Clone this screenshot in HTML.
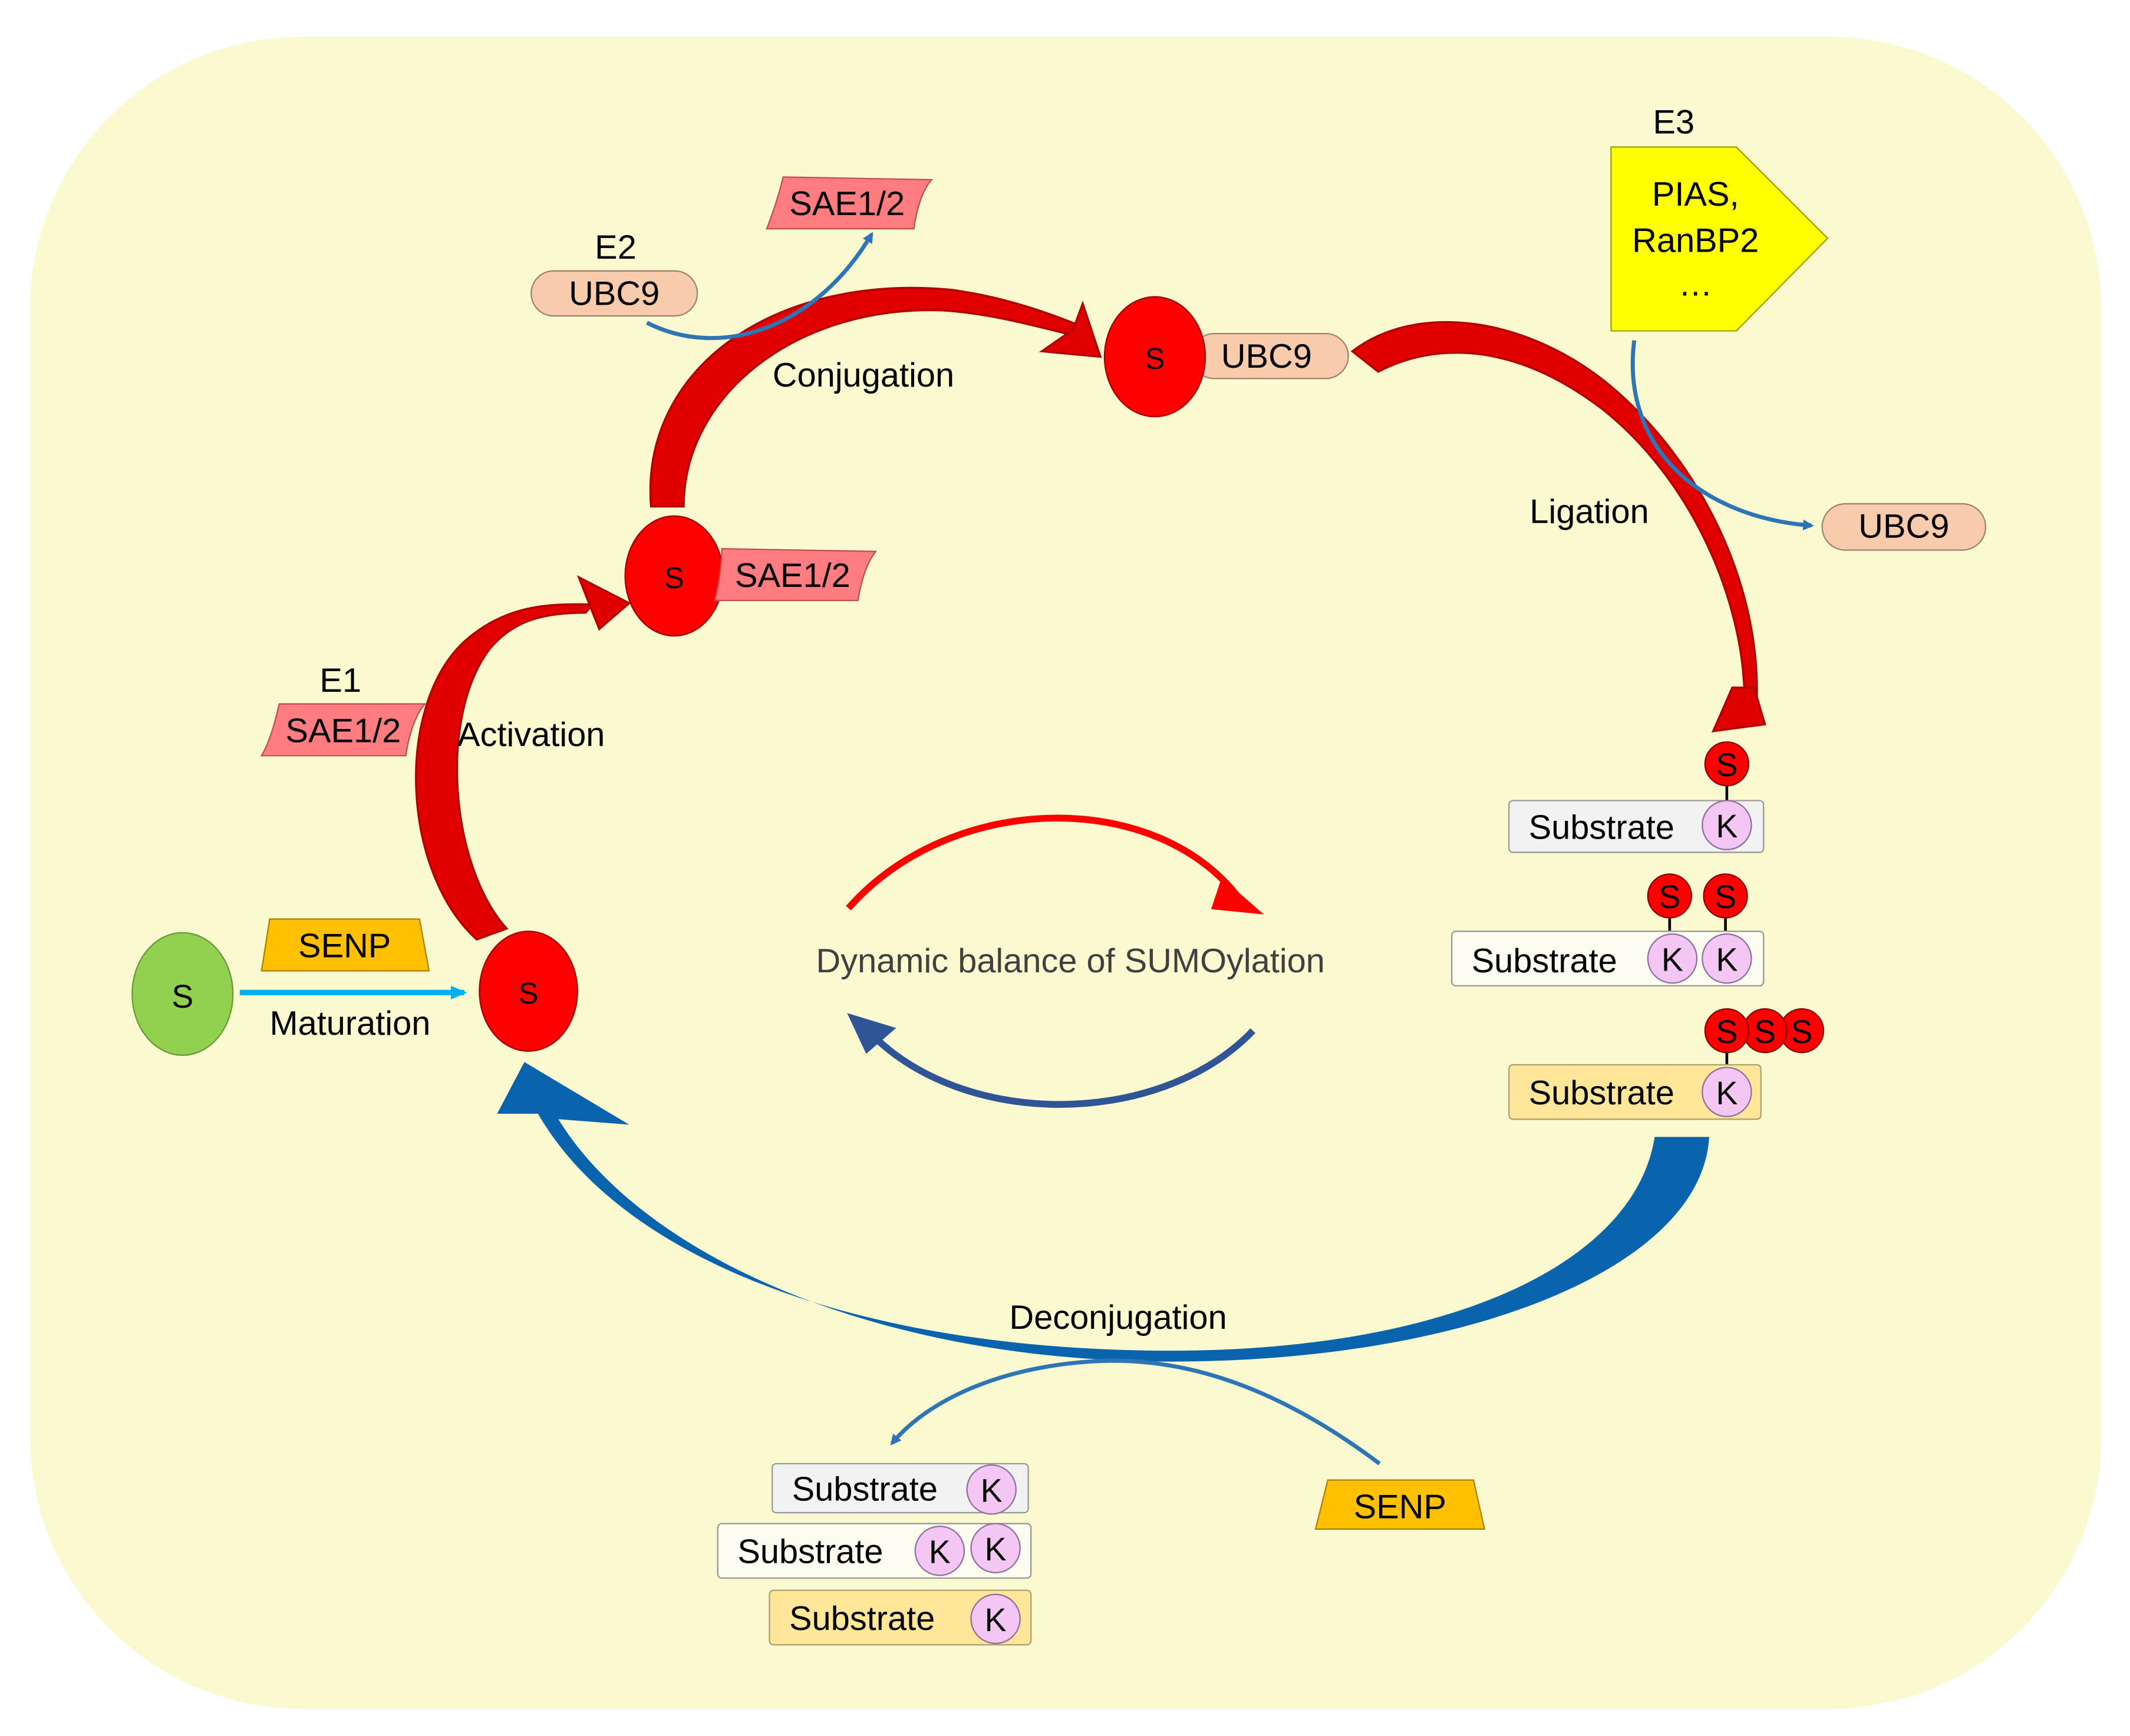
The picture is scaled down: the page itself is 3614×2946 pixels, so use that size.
<!DOCTYPE html>
<html><head><meta charset="utf-8"><style>
html,body{margin:0;padding:0;background:#fff;}
svg{display:block;}
text{font-family:"Liberation Sans",Arial,sans-serif;}
</style></head><body>
<svg width="3614" height="2946" viewBox="0 0 1564 1275" xmlns="http://www.w3.org/2000/svg">
<defs>
<marker id="bh" markerWidth="8" markerHeight="8" refX="6" refY="4" orient="auto" markerUnits="userSpaceOnUse"><path d="M0,0 L8,4 L0,8 z" fill="#2e75b6"/></marker>
<marker id="ch" markerWidth="12" markerHeight="10" refX="10" refY="5" orient="auto" markerUnits="userSpaceOnUse"><path d="M0,0 L12,5 L0,10 z" fill="#00b0f0"/></marker>
</defs>
<rect x="22" y="27" width="1521" height="1228" rx="200" fill="#fbf9d0"/>

<!-- Activation arrow (tapered) -->
<path d="M350,690 C295,640 290,520 340,472 C370,445 400,443 435,444 L430,450 C400,450 378,455 360,476 C322,525 330,635 372,682 Z" fill="#e00000" stroke="#b00000" stroke-width="1.5"/>
<path d="M425,424 L462,443 L440,462 L434,447 Z" fill="#e00000" stroke="#b00000" stroke-width="1.5"/>
<!-- Conjugation arrow (tapered) -->
<path d="M478,372 C470,270 570,200 700,213 C735,218 765,228 790,238 L787,246 C755,238 725,230 692,228 C585,224 502,290 502,372 Z" fill="#e00000" stroke="#b00000" stroke-width="1.5"/>
<path d="M795,223 L808,262 L765,258 L788,242 Z" fill="#e00000" stroke="#b00000" stroke-width="1.5"/>
<!-- Ligation arrow (tapered) -->
<path d="M993,258 C1040,222 1120,232 1182,283 C1250,340 1292,430 1290,512 L1281,512 C1280,440 1242,352 1176,300 C1110,250 1052,252 1012,273 Z" fill="#e00000" stroke="#b00000" stroke-width="1.5"/>
<path d="M1258,537 L1296,532 L1288,505 L1272,505 Z" fill="#e00000" stroke="#b00000" stroke-width="1.5"/>

<!-- Deconjugation big blue arrow -->
<path d="M1255,835 C1250,930 1080,1000 860,1000 C640,1000 470,920 410,822 L462,826 L385,780 L365,818 L395,818 C460,930 640,992 860,992 C1060,992 1200,930 1215,835 Z" fill="#0a63ad"/>

<!-- Center arcs -->
<path d="M623,667 C700,580 850,580 910,660" fill="none" stroke="#ff0000" stroke-width="5"/>
<path d="M898,648 L922,669 L892,666 Z" fill="#ff0000" stroke="#ff0000" stroke-width="4"/>
<path d="M920,757 C850,830 700,830 633,752" fill="none" stroke="#2f5597" stroke-width="5"/>
<path d="M622,744 L658,755 L636,774 Z" fill="#2f5597"/>
<text x="786" y="714" font-size="25" fill="#404040" text-anchor="middle">Dynamic balance of SUMOylation</text>

<!-- thin blue arrows -->
<path d="M475,237 C530,265 600,240 640,172" fill="none" stroke="#2e75b6" stroke-width="3" marker-end="url(#bh)"/>
<path d="M1200,250 C1190,330 1250,380 1330,386" fill="none" stroke="#2e75b6" stroke-width="3" marker-end="url(#bh)"/>
<path d="M1013,1075 C940,1020 870,995 800,1000 C730,1005 680,1030 655,1060" fill="none" stroke="#2e75b6" stroke-width="3" marker-end="url(#bh)"/>

<!-- Maturation -->
<ellipse cx="134" cy="730" rx="37" ry="45" fill="#92d050" stroke="#6a9a3a"/>
<text x="134" y="740" font-size="24" text-anchor="middle">S</text>
<path d="M198,675 L308,675 L315,713 L192,713 Z" fill="#ffc000" stroke="#b08000"/>
<text x="253" y="703" font-size="25" text-anchor="middle">SENP</text>
<line x1="176" y1="729" x2="341" y2="729" stroke="#00b0f0" stroke-width="4" marker-end="url(#ch)"/>
<text x="257" y="760" font-size="25" text-anchor="middle">Maturation</text>
<ellipse cx="388" cy="728" rx="36" ry="44" fill="#ff0000" stroke="#a00000"/>
<text x="388" y="737" font-size="22" text-anchor="middle">S</text>

<!-- E1 -->
<text x="250" y="508" font-size="25" text-anchor="middle">E1</text>
<path d="M205,517 L312,517 C305,525 300,540 298,555 L192,555 C198,545 202,530 205,517 Z" fill="#ff7c80" stroke="#c05050"/>
<text x="252" y="545" font-size="25" text-anchor="middle">SAE1/2</text>
<text x="390" y="548" font-size="25" text-anchor="middle">Activation</text>

<ellipse cx="495" cy="423" rx="36" ry="44" fill="#ff0000" stroke="#a00000"/>
<text x="495" y="432" font-size="22" text-anchor="middle">S</text>
<path d="M530,403 L643,405 C636,414 632,428 630,441 L525,441 C528,428 530,415 530,403 Z" fill="#ff7c80" stroke="#c05050"/>
<text x="582" y="431" font-size="25" text-anchor="middle">SAE1/2</text>

<text x="634" y="284" font-size="25" text-anchor="middle">Conjugation</text>

<!-- E2 -->
<text x="452" y="190" font-size="25" text-anchor="middle">E2</text>
<rect x="390" y="199" width="122" height="33" rx="16.5" fill="#f8cbad" stroke="#a08070"/>
<text x="451" y="224" font-size="25" text-anchor="middle">UBC9</text>
<path d="M575,130 L684,132 C677,140 673,154 671,168 L563,168 C568,155 572,143 575,130 Z" fill="#ff7c80" stroke="#c05050"/>
<text x="622" y="158" font-size="25" text-anchor="middle">SAE1/2</text>

<rect x="875" y="245" width="115" height="33" rx="16.5" fill="#f8cbad" stroke="#a08070"/>
<text x="930" y="270" font-size="25" text-anchor="middle">UBC9</text>
<ellipse cx="848" cy="262" rx="37" ry="44" fill="#ff0000" stroke="#a00000"/>
<text x="848" y="271" font-size="22" text-anchor="middle">S</text>

<text x="1167" y="384" font-size="25" text-anchor="middle">Ligation</text>

<!-- E3 -->
<text x="1229" y="98" font-size="25" text-anchor="middle">E3</text>
<path d="M1183,108 L1275,108 L1342,175 L1275,243 L1183,243 Z" fill="#ffff00" stroke="#a0a000"/>
<text x="1245" y="151" font-size="25" text-anchor="middle">PIAS,</text>
<text x="1245" y="185" font-size="25" text-anchor="middle">RanBP2</text>
<text x="1245" y="217" font-size="25" text-anchor="middle">…</text>
<rect x="1338" y="370" width="120" height="34" rx="17" fill="#f8cbad" stroke="#a08070"/>
<text x="1398" y="395" font-size="25" text-anchor="middle">UBC9</text>

<!-- Right substrates -->
<line x1="1268" y1="561" x2="1268" y2="590" stroke="#000" stroke-width="2"/>
<rect x="1108" y="588" width="187" height="38" rx="3" fill="#f2f2f2" stroke="#999"/>
<text x="1176" y="616" font-size="25" text-anchor="middle">Substrate</text>
<circle cx="1268" cy="561" r="16" fill="#ff0000" stroke="#800"/><text x="1268" y="570" font-size="24" text-anchor="middle">S</text>
<circle cx="1268" cy="606" r="18" fill="#f4c6f4" stroke="#9070a0"/><text x="1268" y="615" font-size="24" text-anchor="middle">K</text>

<line x1="1226" y1="658" x2="1226" y2="686" stroke="#000" stroke-width="2"/>
<line x1="1267" y1="658" x2="1267" y2="686" stroke="#000" stroke-width="2"/>
<rect x="1066" y="684" width="229" height="40" rx="3" fill="#fcfcf0" stroke="#999"/>
<text x="1134" y="714" font-size="25" text-anchor="middle">Substrate</text>
<circle cx="1226" cy="658" r="16" fill="#ff0000" stroke="#800"/><text x="1226" y="667" font-size="24" text-anchor="middle">S</text>
<circle cx="1267" cy="658" r="16" fill="#ff0000" stroke="#800"/><text x="1267" y="667" font-size="24" text-anchor="middle">S</text>
<circle cx="1228" cy="704" r="18" fill="#f4c6f4" stroke="#9070a0"/><text x="1228" y="713" font-size="24" text-anchor="middle">K</text>
<circle cx="1268" cy="704" r="18" fill="#f4c6f4" stroke="#9070a0"/><text x="1268" y="713" font-size="24" text-anchor="middle">K</text>

<line x1="1268" y1="757" x2="1268" y2="784" stroke="#000" stroke-width="2"/>
<rect x="1108" y="782" width="185" height="40" rx="3" fill="#ffe699" stroke="#b0a070"/>
<text x="1176" y="811" font-size="25" text-anchor="middle">Substrate</text>
<circle cx="1323" cy="757" r="16" fill="#ff0000" stroke="#800"/><text x="1323" y="766" font-size="24" text-anchor="middle">S</text>
<circle cx="1296" cy="757" r="16" fill="#ff0000" stroke="#800"/><text x="1296" y="766" font-size="24" text-anchor="middle">S</text>
<circle cx="1268" cy="757" r="16" fill="#ff0000" stroke="#800"/><text x="1268" y="766" font-size="24" text-anchor="middle">S</text>
<circle cx="1268" cy="802" r="18" fill="#f4c6f4" stroke="#9070a0"/><text x="1268" y="811" font-size="24" text-anchor="middle">K</text>

<text x="821" y="976" font-size="25" text-anchor="middle">Deconjugation</text>

<!-- bottom -->
<path d="M975,1087 L1082,1087 L1090,1123 L966,1123 Z" fill="#ffc000" stroke="#b08000"/>
<text x="1028" y="1115" font-size="25" text-anchor="middle">SENP</text>

<rect x="567" y="1075" width="188" height="36" rx="3" fill="#f2f2f2" stroke="#999"/>
<text x="635" y="1102" font-size="25" text-anchor="middle">Substrate</text>
<circle cx="728" cy="1094" r="18" fill="#f4c6f4" stroke="#9070a0"/><text x="728" y="1103" font-size="24" text-anchor="middle">K</text>

<rect x="527" y="1119" width="230" height="40" rx="3" fill="#fcfcf0" stroke="#999"/>
<text x="595" y="1148" font-size="25" text-anchor="middle">Substrate</text>
<circle cx="690" cy="1139" r="18" fill="#f4c6f4" stroke="#9070a0"/><text x="690" y="1148" font-size="24" text-anchor="middle">K</text>
<circle cx="731" cy="1137" r="18" fill="#f4c6f4" stroke="#9070a0"/><text x="731" y="1146" font-size="24" text-anchor="middle">K</text>

<rect x="565" y="1168" width="192" height="40" rx="3" fill="#ffe699" stroke="#b0a070"/>
<text x="633" y="1197" font-size="25" text-anchor="middle">Substrate</text>
<circle cx="731" cy="1189" r="18" fill="#f4c6f4" stroke="#9070a0"/><text x="731" y="1198" font-size="24" text-anchor="middle">K</text>
</svg>
</body></html>
